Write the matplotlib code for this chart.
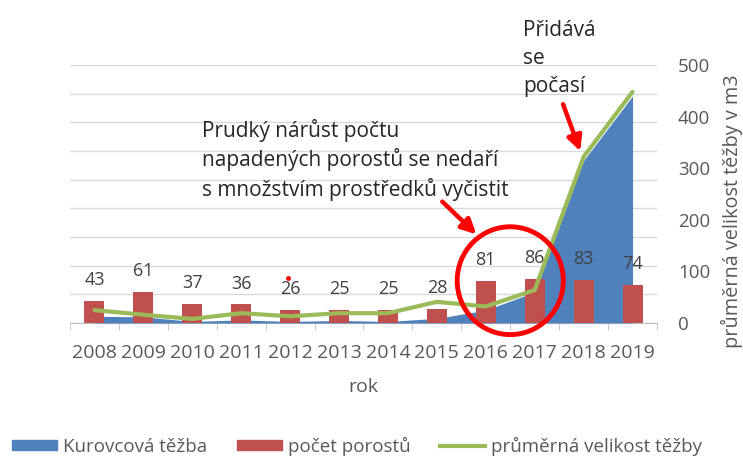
import matplotlib.pyplot as plt
import numpy as np
from matplotlib.patches import Ellipse, Patch
from matplotlib.lines import Line2D

plt.rcParams['font.family'] = ['Open Sans', 'DejaVu Sans']

# Data
years = ["2008", "2009", "2010", "2011", "2012", "2013",
         "2014", "2015", "2016", "2017", "2018", "2019"]
kurovcova_tezba = [13, 12, 3, 6, 3, 5, 3, 9, 25, 60, 315, 440]
pocet_porostu = [43, 61, 37, 36, 26, 25, 25, 28, 81, 86, 83, 74]
prumerna_velikost = [25, 16, 8, 19, 13, 19, 19, 41, 32, 64, 322, 448]

# Colors
blue = "#4F81BD"
red = "#C0504D"
green = "#9BBB59"
gray = "#595959"

W, H = 743, 457
fig = plt.figure(figsize=(W / 100, H / 100), dpi=100)
ax = fig.add_axes([70 / W, 1 - 323 / H, 587 / W, 258 / H])
ax2 = ax.twinx()

x = np.arange(len(years))

# primary axis: only gridlines (hidden labels)
ax.set_ylim(0, 9)
ax.set_yticks(range(10))
ax.set_yticklabels([])
ax.tick_params(axis="y", length=0)
ax.grid(axis="y", color="#D9D9D9", linewidth=1)
ax.set_axisbelow(True)
for s in ["top", "left", "right"]:
    ax.spines[s].set_visible(False)
ax.spines["bottom"].set_color("#BFBFBF")
ax.set_xlim(-0.5, len(years) - 0.5)
ax.set_xticks(x)
ax.set_xticklabels(years, fontsize=14, color=gray)
ax.set_xticks(np.arange(-0.5, len(years)), minor=True)
ax.tick_params(axis="x", which="major", length=0, pad=15)
ax.tick_params(axis="x", which="minor", length=5, color="#BFBFBF")
ax.set_xlabel("rok", fontsize=14, color=gray, labelpad=12)

# secondary axis: data
ax2.fill_between(x, 0, kurovcova_tezba, color=blue, linewidth=0, zorder=1)
bars = ax2.bar(x, pocet_porostu, width=0.41, color=red, zorder=2)
ax2.plot(x, prumerna_velikost, color=green, linewidth=3, zorder=3,
         solid_joinstyle="round", solid_capstyle="round")
for xi, v in zip(x, pocet_porostu):
    ax2.annotate(str(v), (xi, v), xytext=(0, 15), textcoords="offset points",
                 ha="center", va="center", fontsize=13, color="#404040", zorder=4)

ax2.set_ylim(0, 500)
ax2.set_yticks(range(0, 501, 100))
ax2.tick_params(axis="y", length=0, pad=15, labelsize=13.5, labelcolor=gray)
for s in ["top", "left", "right", "bottom"]:
    ax2.spines[s].set_visible(False)
fig.text(732 / W, 1 - 211 / H, "průměrná velikost těžby v m3", rotation=90,
         ha="center", va="center", fontsize=14.3, color=gray)

# annotations
ax2.add_patch(Ellipse((8.5, 82), 2.17, 209, fill=False, edgecolor="#FF0000",
                      linewidth=3.5, zorder=5, clip_on=False))
arrow = dict(arrowstyle="-|>", color="#FF0000", lw=3.2, mutation_scale=22)
ax2.annotate("", xy=(7.85, 168), xytext=(7.07, 239), arrowprops=arrow,
             annotation_clip=False, zorder=5)
ax2.annotate("", xy=(9.95, 328), xytext=(9.56, 429), arrowprops=arrow,
             annotation_clip=False, zorder=5)
ax2.text(2.2, 316, "Prudký nárůst počtu\nnapadených porostů se nedaří\ns množstvím prostředků vyčistit",
         ha="left", va="center", fontsize=15, color="#262626", linespacing=1.35,
         zorder=6)
ax2.text(8.76, 513, "Přidává\nse\npočasí", ha="left", va="center",
         fontsize=15, color="#262626", linespacing=1.45, clip_on=False, zorder=6)
ax2.plot(3.95, 87, marker="o", markersize=2.5, color="#FF0000", zorder=6)

# legend
handles = [Patch(color=blue), Patch(color=red),
           Line2D([], [], color=green, linewidth=3)]
labels = ["Kurovcová těžba", "počet porostů", "průměrná velikost těžby"]
fig.legend(handles, labels, loc="center", bbox_to_anchor=(357 / W, 1 - 446 / H),
           ncol=3, frameon=False, fontsize=13.5, labelcolor=gray,
           handlelength=2.4, handleheight=0.45, handletextpad=0.3,
           columnspacing=1.6)

fig.savefig("out.png", dpi=100)
